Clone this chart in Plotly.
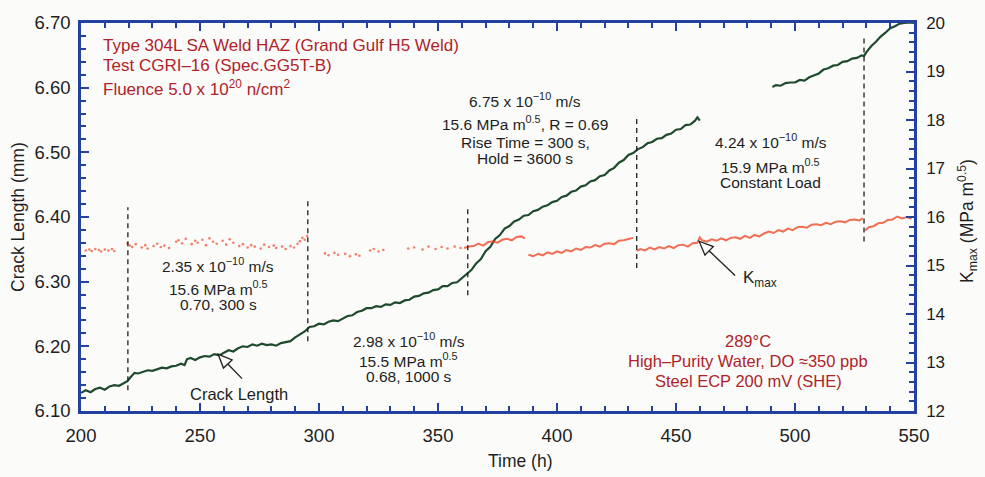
import math
import plotly.graph_objects as go

# ---------------- data ----------------
# Crack length (mm) vs. time (h); first recorded segment
crack_hours_a = [200, 202, 204, 206, 208, 210, 212, 214, 216, 218, 219.5, 221, 222.5, 224, 226, 228,
                 230, 232, 234, 236, 238, 240, 242, 243.5, 244.5, 246, 248, 250, 252, 254, 256, 258,
                 260, 262, 264, 266, 268, 270, 272, 274, 276, 278, 280, 282, 284, 286, 288, 290,
                 292, 294, 296, 298, 300, 302, 304, 306, 308, 310, 312, 314, 316, 318, 320, 322,
                 324, 326, 328, 330, 332, 334, 336, 338, 340, 342, 344, 346, 348, 350, 352, 354,
                 356, 358, 360, 362, 364, 366, 368, 370, 372, 374, 376, 378, 380, 382, 384, 386,
                 388, 390, 392, 394, 396, 398, 400, 402, 404, 406, 408, 410, 412, 414, 416, 418,
                 420, 422, 424, 426, 428, 430, 432, 434, 436, 438, 440, 442, 444, 446, 448, 450,
                 452, 454, 456, 458, 459, 460]
crack_mm_a = [6.128, 6.132, 6.129, 6.134, 6.136, 6.133, 6.138, 6.140, 6.139, 6.143, 6.146, 6.153,
              6.159, 6.158, 6.161, 6.163, 6.162, 6.165, 6.167, 6.166, 6.169, 6.170, 6.173, 6.171,
              6.180, 6.182, 6.179, 6.183, 6.185, 6.184, 6.188, 6.186, 6.190, 6.194, 6.192, 6.197,
              6.200, 6.199, 6.203, 6.201, 6.204, 6.202, 6.203, 6.201, 6.205, 6.207, 6.208, 6.214,
              6.219, 6.223, 6.230, 6.231, 6.235, 6.234, 6.238, 6.240, 6.239, 6.243, 6.247, 6.248,
              6.253, 6.255, 6.259, 6.259, 6.262, 6.261, 6.265, 6.264, 6.268, 6.267, 6.271, 6.272,
              6.277, 6.278, 6.282, 6.283, 6.287, 6.288, 6.293, 6.293, 6.298, 6.299, 6.305, 6.311,
              6.318, 6.328, 6.335, 6.347, 6.354, 6.366, 6.372, 6.382, 6.386, 6.393, 6.396, 6.402,
              6.403, 6.409, 6.411, 6.416, 6.418, 6.423, 6.425, 6.431, 6.433, 6.439, 6.441, 6.447,
              6.449, 6.455, 6.457, 6.463, 6.465, 6.472, 6.476, 6.484, 6.488, 6.496, 6.499, 6.505,
              6.508, 6.514, 6.516, 6.521, 6.522, 6.527, 6.529, 6.535, 6.536, 6.542, 6.543, 6.549,
              6.554, 6.549]

# Second recorded segment (constant load, then restart)
crack_hours_b = [490.5, 492, 494, 496, 498, 500, 502, 504, 506, 508, 510, 512, 514, 516, 518, 520,
                 522, 524, 526, 528, 529, 530, 532, 534, 536, 538, 540, 542, 544, 546, 548, 550]
crack_mm_b = [6.601, 6.604, 6.603, 6.607, 6.608, 6.608, 6.612, 6.611, 6.616, 6.619, 6.622, 6.628,
              6.630, 6.634, 6.635, 6.640, 6.641, 6.645, 6.646, 6.650, 6.649, 6.655, 6.664, 6.671,
              6.679, 6.685, 6.692, 6.695, 6.699, 6.700, 6.701, 6.700]

# K_max (MPa m^0.5), sparsely logged points
kmax_dot_hours = [202, 203.5, 204.5, 206, 207.5, 208.5, 210, 211.5, 213, 214, 219.5, 220.5, 221.5,
                  223, 225.5, 227, 228, 230.5, 232, 233.5, 235, 237, 240, 241, 242.5, 244, 246.5,
                  248, 249, 251, 252.5, 254, 255.5, 257, 259.5, 261, 262.5, 264, 266.5, 268, 270,
                  271.5, 273, 275.5, 277, 279, 281, 282, 284.5, 286, 288, 289.5, 291, 292, 293,
                  294, 295, 302.5, 304, 306.5, 308, 311, 313, 315.5, 317, 321.5, 323, 325, 327,
                  337.5, 340, 343.5, 346, 349, 351.5, 354, 357, 359.5]
kmax_dot = [15.31, 15.33, 15.30, 15.34, 15.32, 15.29, 15.33, 15.31, 15.34, 15.30, 15.46, 15.41,
            15.38, 15.44, 15.37, 15.42, 15.35, 15.40, 15.45, 15.38, 15.41, 15.36, 15.49, 15.52,
            15.46, 15.55, 15.44, 15.51, 15.47, 15.53, 15.42, 15.56, 15.49, 15.45, 15.51, 15.43,
            15.54, 15.47, 15.40, 15.44, 15.37, 15.42, 15.39, 15.35, 15.43, 15.38, 15.41, 15.36,
            15.39, 15.34, 15.40, 15.37, 15.45, 15.50, 15.57, 15.53, 15.61, 15.25, 15.21, 15.26,
            15.22, 15.24, 15.19, 15.23, 15.20, 15.31, 15.34, 15.29, 15.32, 15.35, 15.37, 15.33,
            15.39, 15.34, 15.38, 15.35, 15.39, 15.36]

# K_max, densely logged stretches (None separates the unload steps)
kmax_band_hours = [361, 363, 365, 367, 369, 371, 373, 375, 377, 379, 381, 383, 385, 386.5, None,
                   388, 390, 392, 394, 396, 398, 400, 402, 404, 406, 408, 410, 412, 414, 416, 418,
                   420, 422, 424, 426, 428, 430, 432, None,
                   433.5, 435, 437, 439, 441, 443, 445, 447, 449, 451, 453, 455, 457, 459, 460, 461,
                   463, 465, 467, 469, 471, 473, 475, 477, 479, 481, 483, 485, 487, 489, 491, 493,
                   495, 497, 499, 501, 503, 505, 507, 509, 511, 513, 515, 517, 519, 521, 523, 525,
                   527, 528.5, None,
                   529.5, 531, 533, 535, 537, 539, 541, 543, 545, 547, 549]
kmax_band = [15.36, 15.39, 15.40, 15.45, 15.41, 15.48, 15.50, 15.47, 15.53, 15.55, 15.52, 15.59,
             15.60, 15.56, None,
             15.22, 15.19, 15.24, 15.21, 15.27, 15.24, 15.29, 15.26, 15.32, 15.29, 15.35, 15.32,
             15.38, 15.37, 15.42, 15.39, 15.45, 15.46, 15.44, 15.51, 15.52, 15.55, 15.57, None,
             15.30, 15.34, 15.31, 15.37, 15.33, 15.38, 15.35, 15.40, 15.36, 15.42, 15.43, 15.39,
             15.46, 15.47, 15.58, 15.52, 15.49, 15.54, 15.51, 15.56, 15.52, 15.57, 15.58, 15.55,
             15.61, 15.57, 15.63, 15.60, 15.66, 15.70, 15.67, 15.73, 15.70, 15.76, 15.73, 15.79,
             15.80, 15.78, 15.84, 15.85, 15.83, 15.88, 15.85, 15.90, 15.91, 15.89, 15.94, 15.95,
             15.93, 15.97, None,
             15.72, 15.79, 15.81, 15.87, 15.88, 15.94, 15.95, 16.01, 15.97, 16.00, 15.96]

# Times where loading conditions changed, with dashed-marker extents (mm)
change_hours = [219.7, 295.3, 362.5, 433.5, 529.0]
change_low = [6.132, 6.208, 6.279, 6.321, 6.362]
change_high = [6.415, 6.430, 6.415, 6.552, 6.677]

# Axis ranges and tick labels
X_RANGE = [200, 550]
Y_RANGE = [6.10, 6.70]
K_RANGE = [12, 20]
x_tickvals = [200, 250, 300, 350, 400, 450, 500, 550]
y_tickvals = [6.10, 6.20, 6.30, 6.40, 6.50, 6.60, 6.70]
k_tickvals = [12, 13, 14, 15, 16, 17, 18, 19, 20]

# Text blocks: (hours, mm, text)
specimen_lines = [
    (208.4, 6.665, "Type 304L SA Weld HAZ (Grand Gulf H5 Weld)"),
    (208.4, 6.635, "Test CGRI\u201316 (Spec.GG5T-B)"),
    (208.4, 6.600, "Fluence 5.0 x 10<sup>20</sup> n/cm<sup>2</sup>"),
]
environment_lines = [
    (480.3, 6.209, "289\u00b0C"),
    (480.3, 6.178, "High\u2013Purity Water, DO \u2248350 ppb"),
    (480.3, 6.147, "Steel ECP 200 mV (SHE)"),
]
condition_lines = [
    (257.6, 6.326, "2.35 x 10<sup>\u221210</sup> m/s"),
    (257.6, 6.290, "15.6 MPa m<sup>0.5</sup>"),
    (257.6, 6.264, "0.70, 300 s"),
    (337.8, 6.210, "2.98 x 10<sup>\u221210</sup> m/s"),
    (337.8, 6.179, "15.5 MPa m<sup>0.5</sup>"),
    (337.8, 6.153, "0.68, 1000 s"),
    (386.6, 6.581, "6.75 x 10<sup>\u221210</sup> m/s"),
    (386.6, 6.546, "15.6 MPa m<sup>0.5</sup>, R = 0.69"),
    (386.6, 6.515, "Rise Time = 300 s,"),
    (386.6, 6.491, "Hold = 3600 s"),
    (489.9, 6.517, "4.24 x 10<sup>\u221210</sup> m/s"),
    (489.9, 6.479, "15.9 MPa m<sup>0.5</sup>"),
    (489.9, 6.453, "Constant Load"),
]

# ---------------- styling ----------------
FONT = "Liberation Sans, Arial, Helvetica, sans-serif"
AXIS_BLUE = "#2440a0"
RED_TEXT = "#b02228"
INK = "#1e1e1e"
BG = "#fbfcfa"
W, H = 985, 477
ML, MR, MT, MB = 81, 71, 15, 66
PW, PH = W - ML - MR, H - MT - MB


def to_px(h, v, rng):
    """Data value -> page pixel (x from hours, y from the given axis range)."""
    px = ML + (h - X_RANGE[0]) / (X_RANGE[1] - X_RANGE[0]) * PW
    py = MT + (1 - (v - rng[0]) / (rng[1] - rng[0])) * PH
    return px, py


def to_paper(px, py):
    return (px - ML) / PW, 1 - (py - MT) / PH


def hollow_arrow(tip_h, tip_v, rng, dx, dy, head_len=14, half_w=6):
    """Outline arrow pointing at a data location, tail offset (dx, dy) px."""
    tx, ty = to_px(tip_h, tip_v, rng)
    sx, sy = tx + dx, ty + dy
    L = math.hypot(dx, dy)
    ux, uy = -dx / L, -dy / L
    bx, by = tx - head_len * ux, ty - head_len * uy
    nx, ny = -uy, ux
    c1 = (bx + half_w * nx, by + half_w * ny)
    c2 = (bx - half_w * nx, by - half_w * ny)
    pts = [to_paper(*p) for p in [(sx, sy), (bx, by), (tx, ty), c1, c2]]
    shaft = "M {0[0]} {0[1]} L {1[0]} {1[1]}".format(pts[0], pts[1])
    head = "M {0[0]} {0[1]} L {1[0]} {1[1]} L {2[0]} {2[1]} Z".format(pts[2], pts[3], pts[4])
    line = dict(color=INK, width=1.3)
    return [
        dict(type="path", xref="paper", yref="paper", path=shaft, line=line),
        dict(type="path", xref="paper", yref="paper", path=head, line=line, fillcolor=BG),
    ]


fig = go.Figure()

fig.add_trace(go.Scatter(x=kmax_dot_hours, y=kmax_dot, yaxis="y2", mode="markers",
                         marker=dict(color="#ee4a2c", size=2.6, opacity=0.7, line=dict(width=0)),
                         showlegend=False, hoverinfo="skip"))
fig.add_trace(go.Scatter(x=kmax_band_hours, y=kmax_band, yaxis="y2", mode="lines",
                         line=dict(color="#ef4b2a", width=2.0), opacity=0.8,
                         connectgaps=False, showlegend=False, hoverinfo="skip"))

for hrs, mm in [(crack_hours_a, crack_mm_a), (crack_hours_b, crack_mm_b)]:
    fig.add_trace(go.Scatter(x=hrs, y=mm, mode="lines",
                             line=dict(color="#1d4a2c", width=2.2),
                             showlegend=False, hoverinfo="skip"))

# empty trace so the top tick axis is laid out
fig.add_trace(go.Scatter(x=[], y=[], xaxis="x2", showlegend=False, hoverinfo="skip"))

shapes = []
for h, lo, hi in zip(change_hours, change_low, change_high):
    shapes.append(dict(type="line", xref="x", yref="y", x0=h, x1=h, y0=lo, y1=hi,
                       line=dict(color=INK, width=1.3, dash="5px,4px")))
shapes += hollow_arrow(257.6, 6.188, Y_RANGE, 24, 25)
shapes += hollow_arrow(459.7, 15.50, K_RANGE, 36, 35)

annotations = []
for h, v, t in specimen_lines:
    annotations.append(dict(x=h, y=v, xref="x", yref="y", text=t, showarrow=False,
                            xanchor="left", yanchor="middle",
                            font=dict(family=FONT, size=17, color=RED_TEXT)))
for h, v, t in environment_lines:
    annotations.append(dict(x=h, y=v, xref="x", yref="y", text=t, showarrow=False,
                            xanchor="center", yanchor="middle",
                            font=dict(family=FONT, size=16.5, color=RED_TEXT)))
for h, v, t in condition_lines:
    annotations.append(dict(x=h, y=v, xref="x", yref="y", text=t, showarrow=False,
                            xanchor="center", yanchor="middle",
                            font=dict(family=FONT, size=15.5, color=INK)))
annotations.append(dict(x=266.4, y=6.127, xref="x", yref="y", text="Crack Length",
                        showarrow=False, xanchor="center", yanchor="middle",
                        font=dict(family=FONT, size=16.5, color=INK)))
annotations.append(dict(x=485.3, y=6.304, xref="x", yref="y", text="K<sub>max</sub>",
                        showarrow=False, xanchor="center", yanchor="middle",
                        font=dict(family=FONT, size=17, color=INK)))

# Axis titles
annotations.append(dict(x=(520 - ML) / PW, y=-0.128, xref="paper", yref="paper",
                        text="Time (h)", showarrow=False, xanchor="center", yanchor="middle",
                        font=dict(family=FONT, size=17.5, color=INK)))
annotations.append(dict(x=(18 - ML) / PW, y=0.5, xref="paper", yref="paper",
                        text="Crack Length (mm)", textangle=-90, showarrow=False,
                        xanchor="center", yanchor="middle",
                        font=dict(family=FONT, size=17.5, color=INK)))
annotations.append(dict(x=(968 - ML) / PW, y=0.49, xref="paper", yref="paper",
                        text="K<sub>max</sub> (MPa m<sup>0.5</sup>)", textangle=-90,
                        showarrow=False, xanchor="center", yanchor="middle",
                        font=dict(family=FONT, size=17.5, color=INK)))

axis_common = dict(showgrid=False, zeroline=False, showline=True, linecolor=AXIS_BLUE,
                   linewidth=2.5, ticks="inside", tickcolor=AXIS_BLUE, tickwidth=2,
                   ticklen=8)
x_minor = dict(dtick=10, ticklen=5, tickwidth=1.5, ticks="inside", tickcolor=AXIS_BLUE)

fig.update_layout(
    width=W, height=H,
    margin=dict(l=ML, r=MR, t=MT, b=MB, pad=0),
    paper_bgcolor=BG, plot_bgcolor=BG,
    xaxis=dict(range=X_RANGE, tickvals=x_tickvals, minor=x_minor,
               tickfont=dict(family=FONT, size=18.5, color=INK), ticklabelstandoff=6,
               **axis_common),
    xaxis2=dict(range=X_RANGE, tickvals=x_tickvals, minor=x_minor, overlaying="x",
                side="top", showticklabels=False, **axis_common),
    yaxis=dict(range=Y_RANGE, tickvals=y_tickvals, tickformat=".2f",
               minor=dict(dtick=0.02, ticklen=5, tickwidth=1.5, ticks="inside", tickcolor=AXIS_BLUE),
               tickfont=dict(family=FONT, size=18.5, color=INK), ticklabelstandoff=4,
               **axis_common),
    yaxis2=dict(range=K_RANGE, tickvals=k_tickvals, overlaying="y", side="right",
                minor=dict(dtick=0.2, ticklen=5, tickwidth=1.5, ticks="inside", tickcolor=AXIS_BLUE),
                tickfont=dict(family=FONT, size=17, color=INK), ticklabelstandoff=6,
                **axis_common),
    shapes=shapes,
    annotations=annotations,
    showlegend=False,
)

fig.write_html("out.html")
